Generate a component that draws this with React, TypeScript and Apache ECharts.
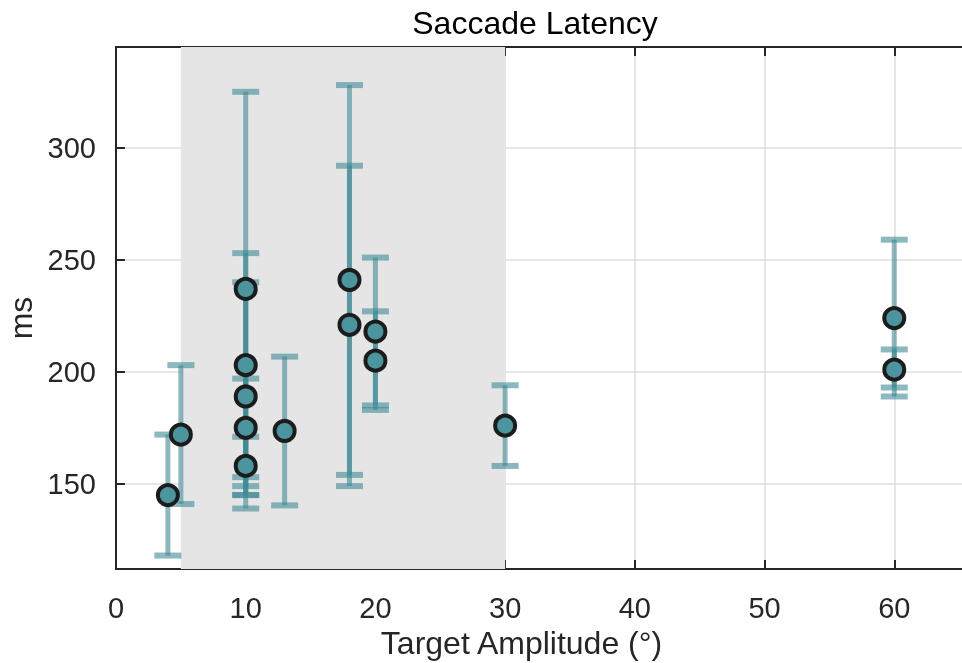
import React, { useEffect, useRef } from "react";
import * as echarts from "echarts";

const amplitudes = [4, 5, 10, 10, 10, 10, 10, 13, 18, 18, 20, 20, 30, 60, 60];
const latencies = [145, 172, 237, 203, 189, 175, 158, 173.6, 241, 221, 218, 205, 176, 224, 201];
const lowBounds = [118, 141, 153, 145, 149, 139, 145, 140.4, 149, 154, 183, 185, 158, 189, 193];
const highBounds = [172, 203, 325, 253, 240, 197, 171, 206.8, 328, 292, 251, 227, 194, 259, 210];
const shadedRange = [5, 30];
const xTicks = [0, 10, 20, 30, 40, 50, 60];
const yTicks = [150, 200, 250, 300];

const FONT = "'Liberation Sans', Arial, sans-serif";
const BAR = "rgba(61,138,148,0.6)";

export default function App() {
  const ref = useRef<HTMLDivElement>(null);
  useEffect(() => {
    if (!ref.current) return;
    const chart = echarts.init(ref.current, undefined, { renderer: "svg" });
    const errData = amplitudes.map((x, i) => [x, lowBounds[i], highBounds[i]]);
    const ptData = amplitudes.map((x, i) => [x, latencies[i]]);
    const axisLine = { show: true, lineStyle: { color: "#262626", width: 2 } };
    const tick = { show: true, inside: true, length: 9, lineStyle: { color: "#262626", width: 2 } };
    chart.setOption({
      animation: false,
      title: {
        text: "Saccade Latency",
        left: 530,
        textAlign: "center",
        top: 2,
        textStyle: { fontFamily: FONT, fontSize: 32, fontWeight: "normal", color: "#000" },
      },
      grid: { left: 116, top: 47, width: 847, height: 522, outerBoundsMode: "none", containLabel: false },
      xAxis: [
        {
          type: "value",
          min: 0,
          max: 65.3,
          interval: 10,
          position: "bottom",
          name: "Target Amplitude (°)",
          nameLocation: "middle",
          nameGap: 50,
          nameTextStyle: { fontFamily: FONT, fontSize: 32, color: "#262626", padding: [0, 36, 0, 0] },
          axisLine,
          axisTick: tick,
          axisLabel: {
            fontFamily: FONT,
            fontSize: 29,
            color: "#262626",
            margin: 24,
            formatter: (v: number) => (xTicks.includes(v) ? String(v) : ""),
          },
          splitLine: { show: true, lineStyle: { color: "#dedede", width: 1.5 } },
        },
        {
          type: "value",
          min: 0,
          max: 65.3,
          interval: 10,
          position: "top",
          axisLine,
          axisTick: tick,
          axisLabel: { show: false },
          splitLine: { show: false },
        },
      ],
      yAxis: {
        type: "value",
        min: 112,
        max: 345,
        minInterval: 50,
        maxInterval: 50,
        splitNumber: 5,
        name: "ms",
        nameLocation: "middle",
        nameGap: 77,
        nameTextStyle: { fontFamily: FONT, fontSize: 32, color: "#262626", padding: [0, 20, 0, 0] },
        axisLine,
        axisTick: tick,
        axisLabel: {
          fontFamily: FONT,
          fontSize: 29,
          color: "#262626",
          margin: 20,
          formatter: (v: number) => (yTicks.includes(v) ? String(v) : ""),
        },
        splitLine: { show: true, lineStyle: { color: "#dedede", width: 1.5 } },
      },
      series: [
        {
          type: "scatter",
          data: [],
          silent: true,
          markArea: {
            silent: true,
            itemStyle: { color: "#e5e5e5" },
            data: [[{ xAxis: shadedRange[0] }, { xAxis: shadedRange[1] }]],
          },
          z: 1,
        },
        {
          type: "custom",
          data: errData,
          encode: { x: 0, y: [1, 2] },
          z: 3,
          renderItem: (params: any, api: any) => {
            const x = api.value(0);
            const lo = api.coord([x, api.value(1)]);
            const hi = api.coord([x, api.value(2)]);
            const hw = 13.5;
            return {
              type: "group",
              children: [
                { type: "line", shape: { x1: lo[0], y1: lo[1], x2: hi[0], y2: hi[1] }, style: { stroke: BAR, lineWidth: 5 } },
                { type: "line", shape: { x1: lo[0] - hw, y1: lo[1], x2: lo[0] + hw, y2: lo[1] }, style: { stroke: BAR, lineWidth: 6 } },
                { type: "line", shape: { x1: hi[0] - hw, y1: hi[1], x2: hi[0] + hw, y2: hi[1] }, style: { stroke: BAR, lineWidth: 6 } },
              ],
            };
          },
        },
        {
          type: "scatter",
          data: ptData,
          symbol: "circle",
          symbolSize: 20,
          z: 4,
          itemStyle: { color: "#4a959e", borderColor: "#1c1c1c", borderWidth: 4, opacity: 1 },
        },
      ],
    });
    return () => chart.dispose();
  }, []);
  return <div ref={ref} style={{ position: "fixed", left: 0, top: 0, width: 962, height: 663 }} />;
}
